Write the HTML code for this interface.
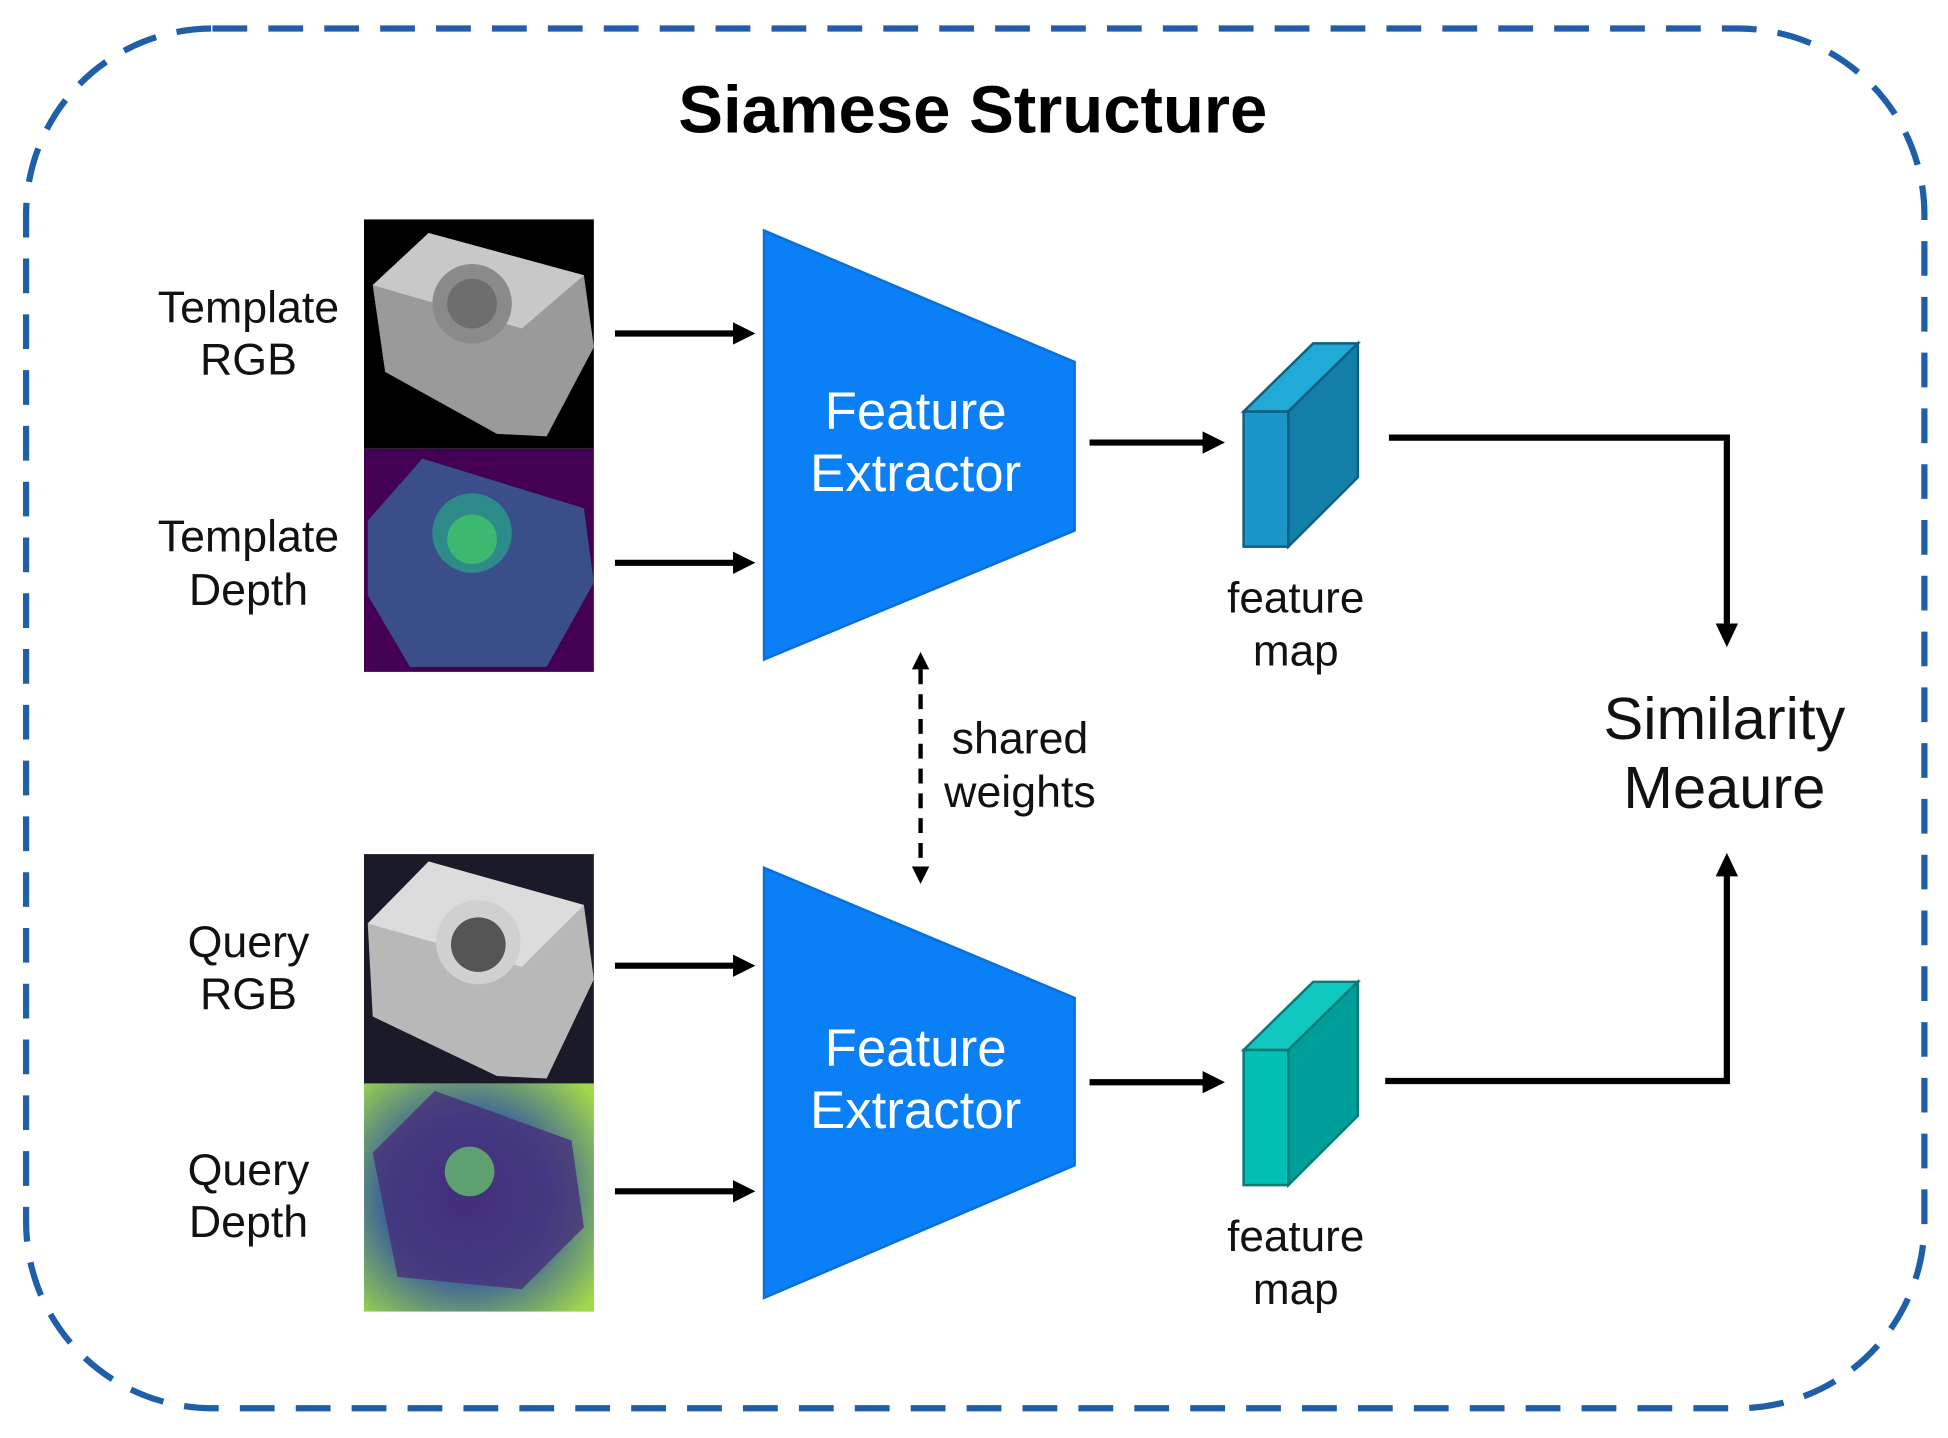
<!DOCTYPE html>
<html><head><meta charset="utf-8"><style>
html,body{margin:0;padding:0;background:#fff;}
svg{display:block;}
text{font-family:"Liberation Sans",sans-serif;}
</style></head><body>
<svg width="1948" height="1438" viewBox="0 0 1568 1160" preserveAspectRatio="none" xmlns="http://www.w3.org/2000/svg">
<defs>
<radialGradient id="qd" cx="0.45" cy="0.5" r="0.7"><stop offset="0" stop-color="#3b2a7a"/><stop offset="0.5" stop-color="#3a5f9a"/><stop offset="1" stop-color="#9fd84a"/></radialGradient>
</defs>
<rect x="21" y="23" width="1528" height="1113" rx="150" ry="150" fill="none" stroke="#1f5ea8" stroke-width="5" stroke-dasharray="28 17"/>
<text x="783" y="107" font-size="54" font-weight="bold" text-anchor="middle">Siamese Structure</text>

<rect x="293" y="177" width="185" height="185" fill="#000"/>
<polygon points="300,230 345,188 470,222 478,280 440,352 400,350 310,300" fill="#9a9a9a"/>
<polygon points="300,230 345,188 470,222 420,265" fill="#c8c8c8"/>
<circle cx="380" cy="245" r="32" fill="#8a8a8a"/><circle cx="380" cy="245" r="20" fill="#6e6e6e"/>
<rect x="293" y="362" width="185" height="180" fill="#440154"/>
<polygon points="296,420 340,370 470,410 478,470 440,538 330,538 296,480" fill="#3a4f8a"/>
<circle cx="380" cy="430" r="32" fill="#2f8a8a"/><circle cx="380" cy="435" r="20" fill="#3cb870"/>
<rect x="293" y="689" width="185" height="185" fill="#1a1a28"/>
<polygon points="296,745 345,695 470,730 478,790 440,870 400,868 300,820" fill="#b8b8b8"/>
<polygon points="296,745 345,695 470,730 420,780" fill="#dcdcdc"/>
<circle cx="385" cy="760" r="34" fill="#d0d0d0"/><circle cx="385" cy="762" r="22" fill="#555"/>
<rect x="293" y="874" width="185" height="184" fill="#c8e020"/>
<rect x="293" y="874" width="185" height="184" fill="url(#qd)"/>
<polygon points="300,930 350,880 460,920 470,990 420,1040 320,1030" fill="#46307a" opacity="0.8"/>
<circle cx="378" cy="945" r="20" fill="#5fa070"/>

<g font-size="36" text-anchor="middle" fill="#111">
<text x="200" y="260">Template</text><text x="200" y="302">RGB</text>
<text x="200" y="445">Template</text><text x="200" y="488">Depth</text>
<text x="200" y="772">Query</text><text x="200" y="814">RGB</text>
<text x="200" y="956">Query</text><text x="200" y="998">Depth</text>
</g>
<g font-size="35.5" text-anchor="middle" fill="#111">
<text x="1043" y="494">feature</text><text x="1043" y="537">map</text>
<text x="1043" y="1009">feature</text><text x="1043" y="1052">map</text>
</g>
<g font-size="36" text-anchor="middle" fill="#111">
<text x="821" y="608">shared</text><text x="821" y="651">weights</text>
</g>
<g font-size="48" text-anchor="middle" fill="#111">
<text x="1388" y="596">Similarity</text><text x="1388" y="652">Meaure</text>
</g>

<g stroke="#000" stroke-width="5" fill="none">
<line x1="495" y1="269" x2="592" y2="269"/><line x1="495" y1="454" x2="592" y2="454"/>
<line x1="495" y1="779" x2="592" y2="779"/><line x1="495" y1="961" x2="592" y2="961"/>
<line x1="877" y1="357" x2="970" y2="357"/><line x1="877" y1="873" x2="970" y2="873"/>
<polyline points="1118,353 1390,353 1390,505"/>
<polyline points="1115,872 1390,872 1390,705"/>
</g>
<g fill="#000">
<polygon points="608,269 590,260 590,278"/><polygon points="608,454 590,445 590,463"/>
<polygon points="608,779 590,770 590,788"/><polygon points="608,961 590,952 590,970"/>
<polygon points="986,357 968,348 968,366"/><polygon points="986,873 968,864 968,882"/>
<polygon points="1390,522 1381,503 1399,503"/><polygon points="1390,688 1381,707 1399,707"/>
<polygon points="741,526 734,540 748,540"/><polygon points="741,713 734,699 748,699"/>
</g>
<line x1="741" y1="540" x2="741" y2="700" stroke="#000" stroke-width="3.5" stroke-dasharray="12 8"/>

<polygon points="615,186 865,292 865,428 615,532" fill="#0b7ff5" stroke="#0a6fd8" stroke-width="2"/>
<polygon points="615,700 865,805 865,940 615,1047" fill="#0b7ff5" stroke="#0a6fd8" stroke-width="2"/>
<g font-size="42.5" fill="#fff" text-anchor="middle">
<text x="737" y="346">Feature</text><text x="737" y="396">Extractor</text>
<text x="737" y="860">Feature</text><text x="737" y="910">Extractor</text>
</g>

<g stroke="#0e5f80" stroke-width="2">
<polygon points="1001,332 1037,332 1093,277 1057,277" fill="#22aad6"/>
<polygon points="1037,332 1093,277 1093,385 1037,441" fill="#137fa8"/>
<rect x="1001" y="332" width="36" height="109" fill="#1a96c8"/>
</g>
<g stroke="#0a7a78" stroke-width="2">
<polygon points="1001,847 1037,847 1093,792 1057,792" fill="#10c8c0"/>
<polygon points="1037,847 1093,792 1093,900 1037,956" fill="#009e98"/>
<rect x="1001" y="847" width="36" height="109" fill="#00bfb5"/>
</g>
</svg>
</body></html>
